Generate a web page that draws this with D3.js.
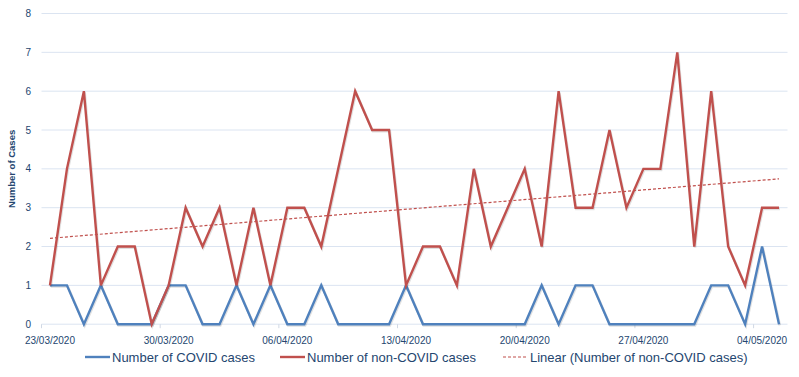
<!DOCTYPE html>
<html>
<head>
<meta charset="utf-8">
<script src="https://cdn.jsdelivr.net/npm/d3@7"></script>
<style>
  body { margin: 0; background: #fff; }
  svg { display: block; font-family: "Liberation Sans", "DejaVu Sans", sans-serif; }
</style>
</head>
<body>
<div id="chart"></div>
<script>
// daily values, 23/03/2020 .. 05/05/2020
const startDate = new Date(2020, 2, 23);
const covidCases = [1,1,0,1,0,0,0,1,1,0,0,1,0,1,0,0,1,0,0,0,0,1,0,0,0,0,0,0,0,1,0,1,1,0,0,0,0,0,0,1,1,0,2,0];
const nonCovidCases = [1,4,6,1,2,2,0,1,3,2,3,1,3,1,3,3,2,4,6,5,5,1,2,2,1,4,2,3,4,2,6,3,3,5,3,4,4,7,2,6,2,1,3,3];
const yTicks = [0,1,2,3,4,5,6,7,8];
const xTickDays = [0,7,14,21,28,35,42];
const legendItems = ["Number of COVID cases", "Number of non-COVID cases", "Linear (Number of non-COVID cases)"];

const width = 799, height = 377;
const textColor = "#24466f";
const blue = "#4f81bd", red = "#c0504d";

const svg = d3.select("#chart").append("svg")
    .attr("width", width)
    .attr("height", height);

const x = d3.scaleLinear().domain([-0.5, covidCases.length - 0.5]).range([41.5, 787.5]);
const y = d3.scaleLinear().domain([0, 8]).range([324.2, 13.5]);

const fmt = d3.timeFormat("%d/%m/%Y");
const dayToDate = i => d3.timeDay.offset(startDate, i);

// gridlines
svg.append("g")
    .selectAll("line")
    .data(yTicks)
    .join("line")
    .attr("x1", x.range()[0])
    .attr("x2", x.range()[1])
    .attr("y1", d => y(d))
    .attr("y2", d => y(d))
    .attr("stroke", "#dbe4f1")
    .attr("stroke-width", 1);

// y tick labels
svg.append("g")
    .attr("font-size", 10)
    .attr("fill", textColor)
    .selectAll("text")
    .data(yTicks)
    .join("text")
    .attr("x", 31)
    .attr("y", d => y(d))
    .attr("dy", "0.35em")
    .attr("text-anchor", "end")
    .text(d => d);

// y title
svg.append("text")
    .attr("transform", `translate(15, ${y(4)}) rotate(-90)`)
    .attr("text-anchor", "middle")
    .attr("font-size", 9.5)
    .attr("font-weight", "bold")
    .attr("fill", textColor)
    .text("Number of Cases");

// x axis ticks (between days, Excel date axis style)
svg.append("g")
    .attr("stroke", "#d0d8e4")
    .selectAll("line")
    .data(xTickDays)
    .join("line")
    .attr("x1", d => x(d - 0.5))
    .attr("x2", d => x(d - 0.5))
    .attr("y1", y(0))
    .attr("y2", y(0) + 4);

svg.append("g")
    .attr("font-size", 10)
    .attr("fill", textColor)
    .selectAll("text")
    .data(xTickDays)
    .join("text")
    .attr("x", d => x(d))
    .attr("y", 344)
    .attr("text-anchor", "middle")
    .text(d => fmt(dayToDate(d)));

// series lines
const line = d3.line()
    .x((d, i) => x(i))
    .y(d => y(d));

const drawSeries = (values, color) => {
    // soft shadow like the Excel style
    svg.append("path")
        .datum(values)
        .attr("fill", "none")
        .attr("stroke", "#000")
        .attr("stroke-opacity", 0.12)
        .attr("stroke-width", 2.6)
        .attr("stroke-linejoin", "miter")
        .attr("transform", "translate(0.8,1.2)")
        .attr("d", line);
    svg.append("path")
        .datum(values)
        .attr("fill", "none")
        .attr("stroke", color)
        .attr("stroke-width", 2.4)
        .attr("stroke-linejoin", "miter")
        .attr("d", line);
};

drawSeries(covidCases, blue);
drawSeries(nonCovidCases, red);

// linear trend of non-COVID cases (least squares)
const idx = nonCovidCases.map((d, i) => i);
const mx = d3.mean(idx), my = d3.mean(nonCovidCases);
const slope = d3.sum(idx, i => (i - mx) * (nonCovidCases[i] - my)) / d3.sum(idx, i => (i - mx) ** 2);
const intercept = my - slope * mx;
const last = nonCovidCases.length - 1;

svg.append("line")
    .attr("x1", x(0))
    .attr("y1", y(intercept))
    .attr("x2", x(last))
    .attr("y2", y(intercept + slope * last))
    .attr("stroke", red)
    .attr("stroke-width", 1.2)
    .attr("stroke-dasharray", "3,2");

// legend
const legendX = [85, 280, 503];
const legend = svg.append("g")
    .attr("font-size", 13)
    .attr("fill", textColor)
    .selectAll("g")
    .data(legendItems)
    .join("g")
    .attr("transform", (d, i) => `translate(${legendX[i]}, 357)`);

legend.append("line")
    .attr("x1", 0)
    .attr("x2", 25)
    .attr("stroke", (d, i) => i === 0 ? blue : red)
    .attr("stroke-width", (d, i) => i === 2 ? 1.2 : 2.4)
    .attr("stroke-dasharray", (d, i) => i === 2 ? "3,2" : null);

legend.append("text")
    .attr("x", 27)
    .attr("dy", "0.35em")
    .text(d => d);
</script>
</body>
</html>
